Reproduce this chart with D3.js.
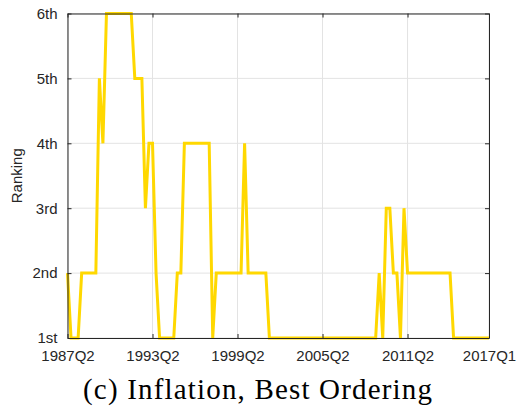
<!DOCTYPE html>
<html><head><meta charset="utf-8">
<script src="https://cdn.jsdelivr.net/npm/d3@7"></script>
<style>body{margin:0;background:#fff}</style>
</head><body>
<script>
// Data
const startYear = 1987, startQ = 2, nQuarters = 120; // 1987Q2 .. 2017Q1
const rankLabels = ["1st","2nd","3rd","4th","5th","6th"];
const xTickLabels = ["1987Q2","1993Q2","1999Q2","2005Q2","2011Q2","2017Q1"];
const xTickIndex = [0,24,48,72,96,119];
// rank value per quarter (1 = 1st ... 6 = 6th)
const ranking = [
 2,1,1,1,2,2,2,2,2,5, 4,6,6,6,6,6,6,6,6,5, 5,5,3,4,4,2,1,1,1,1,
 1,2,2,4,4,4,4,4,4,4, 4,1,2,2,2,2,2,2,2,2, 4,2,2,2,2,2,2,1,1,1,
 1,1,1,1,1,1,1,1,1,1, 1,1,1,1,1,1,1,1,1,1, 1,1,1,1,1,1,1,1,2,1,
 3,3,2,2,1,3,2,2,2,2, 2,2,2,2,2,2,2,2,2,1, 1,1,1,1,1,1,1,1,1,1
];

const W=523,H=412;
const L=67.5,R=489,T=13.5,B=338;
const svg=d3.select("body").append("svg").attr("width",W).attr("height",H);
const x=d3.scaleLinear().domain([0,nQuarters-1]).range([L,R]);
const y=d3.scaleLinear().domain([1,6]).range([B,T]);
const axisCol="#262626", gridCol="#e3e3e3";

// grid
const g=svg.append("g");
g.selectAll(".vg").data(xTickIndex).join("line")
 .attr("x1",d=>x(d)).attr("x2",d=>x(d)).attr("y1",T).attr("y2",B)
 .attr("stroke",gridCol).attr("stroke-width",1);
g.selectAll(".hg").data(d3.range(1,7)).join("line")
 .attr("x1",L).attr("x2",R).attr("y1",d=>y(d)).attr("y2",d=>y(d))
 .attr("stroke",gridCol).attr("stroke-width",1);

// line
svg.append("path").datum(ranking)
 .attr("d",d3.line().x((d,i)=>x(i)).y(d=>y(d)))
 .attr("fill","none").attr("stroke","#FFD800").attr("stroke-width",3)
 .attr("stroke-linejoin","miter").attr("stroke-miterlimit",3);

// axes
const fontF="'Liberation Sans', Arial, sans-serif";
const xAxis=d3.axisBottom(x).tickValues(xTickIndex).tickFormat((d,i)=>xTickLabels[i]).tickSizeInner(-4).tickSizeOuter(0).tickPadding(12);
const yAxis=d3.axisLeft(y).tickValues(d3.range(1,7)).tickFormat(d=>rankLabels[d-1]).tickSizeInner(-4).tickSizeOuter(0).tickPadding(10);
const xa=svg.append("g").attr("transform",`translate(0,${B})`).call(xAxis);
const ya=svg.append("g").attr("transform",`translate(${L},0)`).call(yAxis);
const xt=svg.append("g").attr("transform",`translate(0,${T})`).call(d3.axisTop(x).tickValues(xTickIndex).tickFormat("").tickSizeInner(-4).tickSizeOuter(0));
const yr=svg.append("g").attr("transform",`translate(${R},0)`).call(d3.axisRight(y).tickValues(d3.range(1,7)).tickFormat("").tickSizeInner(-4).tickSizeOuter(0));
[xa,ya,xt,yr].forEach(a=>{
  a.selectAll("path").attr("stroke",axisCol).attr("stroke-width",1);
  a.selectAll("line").attr("stroke",axisCol);
  a.selectAll("text").attr("fill","#262626").style("font-family",fontF).style("font-size","15px");
});
xa.selectAll("text").attr("dy","0.71em");

svg.append("text").attr("transform",`translate(22,${(T+B)/2}) rotate(-90)`)
 .attr("text-anchor","middle").style("font-family",fontF).style("font-size","15px").attr("fill","#262626").text("Ranking");

svg.append("text").attr("x",257.5).attr("y",399).attr("text-anchor","middle")
 .attr("textLength",349).attr("lengthAdjust","spacing")
 .style("font-family","'Liberation Serif','DejaVu Serif',serif").style("font-size","29px").attr("fill","#000")
 .text("(c) Inflation, Best Ordering");
</script>
</body></html>
